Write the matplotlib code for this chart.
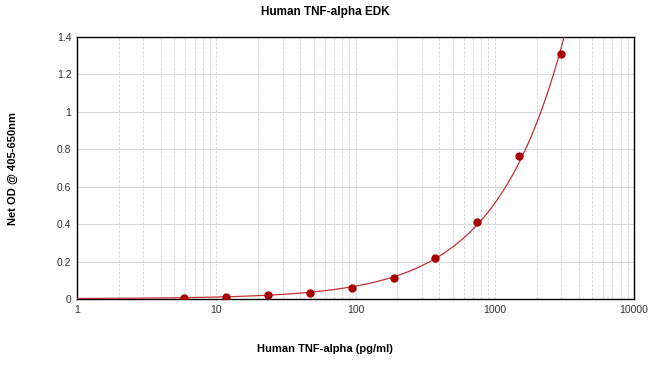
import numpy as np
import matplotlib
matplotlib.use("Agg")
import matplotlib.pyplot as plt
from matplotlib.ticker import LogLocator, FixedLocator, NullFormatter

conc = [5.86, 11.72, 23.44, 46.88, 93.75, 187.5, 375, 750, 1500, 3000]
od = [0.008, 0.012, 0.022, 0.033, 0.058, 0.112, 0.217, 0.414, 0.765, 1.31]
xticks = [1, 10, 100, 1000, 10000]
xticklabels = ["1", "10", "100", "1000", "10000"]
yticks = [0, 0.2, 0.4, 0.6, 0.8, 1.0, 1.2, 1.4]
yticklabels = ["0", "0.2", "0.4", "0.6", "0.8", "1", "1.2", "1.4"]

plt.rcParams['font.family'] = ['Liberation Sans', 'DejaVu Sans']

# weighted fit y = a + b*x^c
X = np.array(conc); Y = np.array(od)
W = 1.0 / np.sqrt(Y)
best = None
for c in np.linspace(0.5, 1.5, 1001):
    A = np.column_stack([np.ones_like(X), X ** c])
    coef, *_ = np.linalg.lstsq(A * W[:, None], Y * W, rcond=None)
    err = np.sum(((A @ coef - Y) * W) ** 2)
    if best is None or err < best[0]:
        best = (err, c, coef)
_, cexp, (a0, b0) = best
xs = np.logspace(0, np.log10(4000), 400)
ys = a0 + b0 * xs ** cexp

fig = plt.figure(figsize=(6.5, 3.77), dpi=100)
ax = fig.add_axes([77/650, 78/377, (634-77)/650, (299-37)/377])
ax.set_xscale('log')
ax.set_xlim(1, 10000)
ax.set_ylim(0, 1.4)

ax.plot(xs, ys, color='#c03030', lw=0.9, zorder=3, clip_on=True)
ax.plot(conc, od, 'o', color='#a80000', ms=5, zorder=4)

ax.xaxis.set_major_locator(FixedLocator(xticks))
ax.set_xticklabels(xticklabels)
ax.xaxis.set_minor_locator(LogLocator(base=10, subs=np.arange(2, 10)))
ax.xaxis.set_minor_formatter(NullFormatter())
ax.set_yticks(yticks)
ax.set_yticklabels(yticklabels)

ax.grid(True, axis='x', which='both', color='#d0d0d0', ls=(0, (3, 2)), lw=0.6)
ax.grid(True, axis='y', which='major', color='#d8d8d8', ls='-', lw=0.7)
ax.set_axisbelow(True)
ax.tick_params(axis='both', which='both', length=0, labelsize=7.5, colors='#333333', pad=4)
for s in ax.spines.values():
    s.set_color('black'); s.set_linewidth(1.0)

fig.text(0.5, 1 - 12/377, "Human TNF-alpha EDK", ha='center', va='center', fontsize=8.5, fontweight='bold')
fig.text(0.5, 1 - 349/377, "Human TNF-alpha (pg/ml)", ha='center', va='center', fontsize=8, fontweight='bold')
fig.text(13/650, 1 - 168/377, "Net OD @ 405-650nm", ha='center', va='center', rotation=90, fontsize=8, fontweight='bold')

fig.savefig("out.png", dpi=100)
